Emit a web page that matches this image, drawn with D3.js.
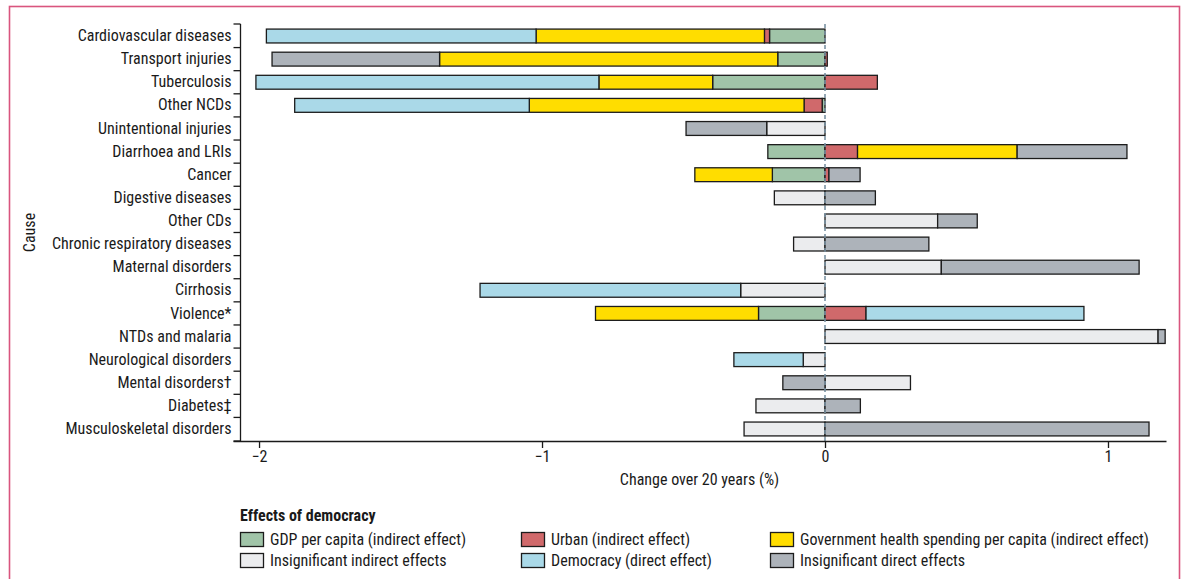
<!DOCTYPE html>
<html><head><meta charset="utf-8">
<script src="https://cdn.jsdelivr.net/npm/d3@7"></script>
<style>
body{margin:0;background:#fff}
text{font-family:"Liberation Sans Narrow","Roboto Condensed","Liberation Sans",sans-serif;fill:#1a1a1a}
</style>
</head><body><svg id="c" width="1184" height="579"></svg>
<script>
const causes = ["Cardiovascular diseases","Transport injuries","Tuberculosis","Other NCDs","Unintentional injuries","Diarrhoea and LRIs","Cancer","Digestive diseases","Other CDs","Chronic respiratory diseases","Maternal disorders","Cirrhosis","Violence*","NTDs and malaria","Neurological disorders","Mental disorders\u2020","Diabetes\u2021","Musculoskeletal disorders"];
const gdp    = [-0.196,-0.167,-0.397,-0.010,0,-0.202,-0.186,0,0,0,0,0,-0.235,0,0,0,0,0];
const urban  = [-0.018,0.008,0.185,-0.064,0,0.115,0.014,0,0,0,0,0,0.145,0,0,0,0,0];
const gov    = [-0.807,-1.195,-0.402,-0.971,0,0.564,-0.274,0,0,0,0,0,-0.576,0,0,0,0,0];
const insInd = [0,0,0,0,-0.206,0,0,-0.179,0.398,-0.111,0.411,-0.298,0,1.177,-0.077,0.302,-0.244,-0.286];
const dem    = [-0.953,0,-1.212,-0.829,0,0,0,0,0,0,0,-0.921,0.770,0,-0.245,0,0,0];
const insDir = [0,-0.592,0,0,-0.285,0.388,0.110,0.178,0.140,0.367,0.699,0,0,0.025,0,-0.149,0.125,1.145];
const xTicks = [-2,-1,0,1];
const seriesKeys = ["gdp","urban","gov","insInd","dem","insDir"];
const seriesLabels = ["GDP per capita (indirect effect)","Urban (indirect effect)","Government health spending per capita (indirect effect)","Insignificant indirect effects","Democracy (direct effect)","Insignificant direct effects"];
const legendOrder = ["gdp","urban","gov","insInd","dem","insDir"];
const colors = {gdp:"#a0c4a8",urban:"#d0696b",gov:"#ffdd00",insInd:"#ebecee",dem:"#aad9e8",insDir:"#adb3ba"};

const FONT = '"Liberation Sans Narrow","Roboto Condensed","Liberation Sans",sans-serif';
const FS = 16;
const vals = {gdp,urban,gov,insInd,dem,insDir};
const data = causes.map((c,i)=>{const o={cause:c}; seriesKeys.forEach(k=>o[k]=vals[k][i]); return o;});

const svg = d3.select("#c");
// frame
svg.append("rect").attr("x",9.5).attr("y",6.5).attr("width",1170).attr("height",640)
  .attr("fill","none").attr("stroke","#d9557e").attr("stroke-width",1.6);

const x = d3.scaleLinear().domain([-2.092,1.205]).range([233,1166]);
const y = d3.scaleBand().domain(causes).range([24,441]).paddingInner(0.4).paddingOuter(0.22);
const yAxisX = 240.5;

const stack = d3.stack().keys(seriesKeys).offset(d3.stackOffsetDiverging);
const stacked = stack(data);

const g = svg.append("g");
stacked.forEach(s=>{
  g.selectAll(null).data(s.filter(d=>d[1]!==d[0])).enter().append("rect")
    .attr("x",d=>x(Math.min(d[0],d[1])))
    .attr("width",d=>Math.abs(x(d[1])-x(d[0])))
    .attr("y",d=>y(d.data.cause))
    .attr("height",y.bandwidth())
    .attr("fill",colors[s.key])
    .attr("stroke","#1c1c1c").attr("stroke-width",1.3);
});

// zero dashed line
svg.append("line").attr("x1",x(0)).attr("x2",x(0)).attr("y1",24).attr("y2",441)
  .attr("stroke","#7b93a3").attr("stroke-width",1.6).attr("stroke-dasharray","4,3");

// x axis
const xa = svg.append("g").attr("transform","translate(0,441)")
  .call(d3.axisBottom(x).tickValues(xTicks).tickSize(7).tickSizeOuter(0)
    .tickFormat(d=>d<0?"\u2212"+Math.abs(d):d));
xa.select(".domain").attr("stroke","#1a1a1a").attr("stroke-width",1.3);
xa.selectAll(".tick line").attr("stroke","#1a1a1a").attr("stroke-width",1.3);
xa.selectAll(".tick text").attr("font-size",FS).attr("dy","0.95em").attr("y",6)
  .style("font-family",FONT).attr("fill","#1a1a1a");

svg.append("text").attr("x",(x.range()[0]+x.range()[1])/2).attr("y",485)
  .attr("text-anchor","middle").attr("font-size",FS).text("Change over 20 years (%)");

// y axis
const ya = svg.append("g").attr("transform",`translate(${yAxisX},0)`)
  .call(d3.axisLeft(y).tickSize(0).tickPadding(9));
ya.select(".domain").remove();
ya.selectAll(".tick text").attr("font-size",FS)
  .style("font-family",FONT).attr("fill","#1a1a1a");
svg.append("line").attr("x1",yAxisX).attr("x2",yAxisX).attr("y1",y.range()[0]).attr("y2",y.range()[1])
  .attr("stroke","#1a1a1a").attr("stroke-width",1.3);
const edges = causes.map(c=>y(c)-y.step()*y.paddingInner()/2).concat([y.range()[1]]);
edges[0]=y.range()[0];
svg.selectAll(null).data(edges).enter().append("line")
  .attr("x1",yAxisX-7).attr("x2",yAxisX).attr("y1",d=>d).attr("y2",d=>d)
  .attr("stroke","#1a1a1a").attr("stroke-width",1.3);

svg.append("text").attr("transform",`translate(35,${(y.range()[0]+y.range()[1])/2}) rotate(-90)`)
  .attr("text-anchor","middle").attr("font-size",FS).text("Cause");

// legend
svg.append("text").attr("x",240).attr("y",521).attr("font-size",FS).attr("font-weight","bold").text("Effects of democracy");
const colX = [240,521,770];
const rowY = [532,553];
legendOrder.forEach((k,i)=>{
  const cx = colX[i%3], ry = rowY[Math.floor(i/3)];
  svg.append("rect").attr("x",cx+0.5).attr("y",ry+0.5).attr("width",23).attr("height",14)
    .attr("fill",colors[k]).attr("stroke","#1c1c1c").attr("stroke-width",1.3);
  svg.append("text").attr("x",cx+30).attr("y",ry+7.5).attr("dy","0.35em").attr("font-size",FS)
    .text(seriesLabels[seriesKeys.indexOf(k)]);
});
</script></body></html>
